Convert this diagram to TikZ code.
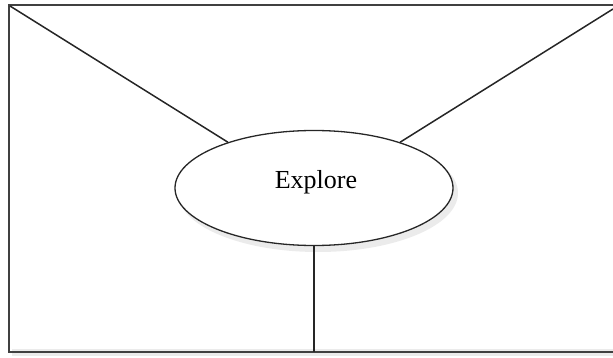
\documentclass[tikz,border=0pt]{standalone}
\usepackage{fontspec}
\setmainfont{Liberation Serif}
\usetikzlibrary{shapes.geometric}
\begin{document}
\begin{tikzpicture}[x=1pt,y=-1pt,
  frame/.style={draw=black!75,line width=2.2pt},
  link/.style={draw=black!85,line width=1.5pt},
  bubble/.style={ellipse,draw=black!85,line width=1.3pt,fill=white,minimum width=278pt,minimum height=115pt,inner sep=0pt},
  shade/.style={fill=black,opacity=0.08}
]
\useasboundingbox (0,0) rectangle (613,358);
\clip (0,0) rectangle (613,358);
% frame shadow
\fill[shade] (12,349) rectangle (620,356);
\draw[frame] (9,5) rectangle (620,352);
\coordinate (tl) at (10,6);
\coordinate (tr) at (613,9);
\coordinate (bot) at (314,352);
% ellipse shadow
\fill[shade] (318,193) ellipse (140pt and 59pt);
\node[bubble] (e) at (314,188) {};
\node[font=\fontsize{26}{30}\selectfont] (t) at (316,182) {Explore};
\draw[link] (tl) -- (e.152);
\draw[link] (tr) -- (e.28);
\draw[link] (e.south) -- (bot);
\end{tikzpicture}
\end{document}
